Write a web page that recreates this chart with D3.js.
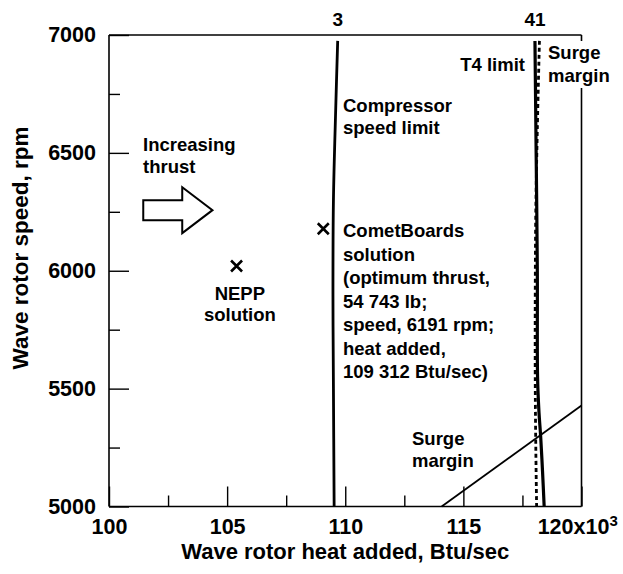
<!DOCTYPE html>
<html><head><meta charset="utf-8">
<script src="https://cdn.jsdelivr.net/npm/d3@7"></script>
<style>
html,body{margin:0;padding:0;background:#fff;}
text{font-family:"Liberation Sans",Arial,Helvetica,sans-serif;font-weight:bold;fill:#000;}
</style></head>
<body>
<svg id="chart" width="623" height="574"></svg>
<script>
// ---- data ----
const xDomain = [100, 120];
const yDomain = [5000, 7000];
const xTicks = [100, 105, 110, 115, 120];
const xTickLabels = ["100", "105", "110", "115", "120x10"];
const xTickExponent = ["", "", "", "", "3"];
const xMinorTicks = [102.5, 107.5, 112.5, 117.5];
const yTicks = [5000, 5500, 6000, 6500, 7000];
const yTickLabels = ["5000", "5500", "6000", "6500", "7000"];
const yMinorTicks = [5250, 5750, 6250, 6750];

// constraint curves: [heat added (x10^3 Btu/sec), speed (rpm)]
const compressorSpeedLimit = [[109.68, 6975], [109.6, 6700], [109.5, 6300], [109.48, 5900], [109.5, 5500], [109.53, 5000]];
const t4Limit = [[118.03, 6975], [118.08, 6500], [118.13, 6000], [118.14, 5550], [118.2, 5400], [118.27, 5300], [118.35, 5150], [118.42, 5000]];
const surgeMarginVertical = [[118.22, 6975], [118.13, 6600], [118.06, 6200], [118.04, 5600], [118.06, 5300], [118.1, 5000]];
const surgeMarginDiagonal = [[114.08, 5000], [120, 5428]];

const neppSolution = [105.4, 6020];
const cometBoardsSolution = [109.07, 6178];

const topLabels = [["3", 109.68], ["41", 118.03]];

// ---- chart ----
const svg = d3.select("#chart");
const x = d3.scaleLinear().domain(xDomain).range([109, 581.5]);
const y = d3.scaleLinear().domain(yDomain).range([506.5, 35]);

const g = svg.append("g");

// axes (ticks inward)
const xAxis = d3.axisBottom(x).tickValues(xTicks)
  .tickFormat((d, i) => xTickLabels[i]).tickSize(-20).tickSizeOuter(0).tickPadding(12);
const xAxisMinor = d3.axisBottom(x).tickValues(xMinorTicks).tickFormat("").tickSize(-11).tickSizeOuter(0);
const yAxis = d3.axisLeft(y).tickValues(yTicks)
  .tickFormat((d, i) => yTickLabels[i]).tickSize(-20).tickSizeOuter(0).tickPadding(13);
const yAxisMinor = d3.axisLeft(y).tickValues(yMinorTicks).tickFormat("").tickSize(-11).tickSizeOuter(0);

function styleAxis(sel) {
  sel.select(".domain").remove();
  sel.selectAll(".tick line").attr("stroke", "#000").attr("stroke-width", 1.4);
  sel.selectAll(".tick text").attr("font-size", 21.5).attr("font-weight", "bold")
    .attr("font-family", '"Liberation Sans",Arial,sans-serif').attr("fill", "#000");
}
const xg = g.append("g").attr("transform", `translate(0,${y(5000)})`).call(xAxis).call(styleAxis);
// exponent on last label
xg.selectAll(".tick text").each(function (d, i) {
  if (xTickExponent[i]) {
    const t = d3.select(this);
    t.attr("dx", "-0.2em");
    t.append("tspan").attr("font-size", 15).attr("dy", "-0.55em").text(xTickExponent[i]);
  }
});
g.append("g").attr("transform", `translate(0,${y(5000)})`).call(xAxisMinor).call(styleAxis);
g.append("g").attr("transform", `translate(${x(100)},0)`).call(yAxis).call(styleAxis);
g.append("g").attr("transform", `translate(${x(100)},0)`).call(yAxisMinor).call(styleAxis);

// frame
const frame = g.append("g").attr("stroke", "#000").attr("stroke-width", 1.6).attr("fill", "none");
frame.append("line").attr("x1", x(100)).attr("x2", x(100)).attr("y1", y(7000)).attr("y2", y(5000));
frame.append("line").attr("x1", x(100)).attr("x2", x(120)).attr("y1", y(5000)).attr("y2", y(5000));
frame.append("line").attr("x1", x(100)).attr("x2", x(120)).attr("y1", y(7000)).attr("y2", y(7000));
frame.append("line").attr("x1", x(120)).attr("x2", x(120)).attr("y1", y(7000)).attr("y2", y(5000));

// curves
const line = d3.line().x(d => x(d[0])).y(d => y(d[1])).curve(d3.curveCatmullRom);
g.append("path").datum(compressorSpeedLimit).attr("d", line)
  .attr("fill", "none").attr("stroke", "#000").attr("stroke-width", 2.8);
g.append("path").datum(surgeMarginVertical).attr("d", line)
  .attr("fill", "none").attr("stroke", "#000").attr("stroke-width", 2.8).attr("stroke-dasharray", "4,3");
g.append("path").datum(t4Limit).attr("d", line)
  .attr("fill", "none").attr("stroke", "#000").attr("stroke-width", 3.2);
g.append("path").datum(surgeMarginDiagonal).attr("d", d3.line().x(d => x(d[0])).y(d => y(d[1])))
  .attr("fill", "none").attr("stroke", "#000").attr("stroke-width", 1.8);

// solution markers (x)
function cross(p) {
  const cx = x(p[0]), cy = y(p[1]), r = 5.5;
  g.append("path")
    .attr("d", `M${cx - r},${cy - r}L${cx + r},${cy + r}M${cx - r},${cy + r}L${cx + r},${cy - r}`)
    .attr("stroke", "#000").attr("stroke-width", 2.6).attr("fill", "none");
}
cross(neppSolution);
cross(cometBoardsSolution);

// increasing-thrust arrow (hollow)
{
  const x0 = x(101.45), xh = x(103.1), xt = x(104.38), cy = y(6257);
  const sh = 10, hh = 23;
  g.append("path")
    .attr("d", `M${x0},${cy - sh}L${xh},${cy - sh}L${xh},${cy - hh}L${xt},${cy}L${xh},${cy + hh}L${xh},${cy + sh}L${x0},${cy + sh}Z`)
    .attr("fill", "#fff").attr("stroke", "#000").attr("stroke-width", 2);
}

// text annotations
function txt(s, px, py, size, anchor) {
  return g.append("text").attr("x", px).attr("y", py).attr("font-size", size)
    .attr("text-anchor", anchor || "start").text(s);
}
const A = 18.5;
txt("Increasing", x(101.44), 151, A);
txt("thrust", x(101.44), 173, A);
txt("NEPP", x(105.54), 300, A, "middle");
txt("solution", x(105.54), 321, A, "middle");
txt("Compressor", 343, 112, A);
txt("speed limit", 343, 134, A);
const cometLines = ["CometBoards", "solution", "(optimum thrust,", "54 743 lb;", "speed, 6191 rpm;", "heat added,", "109 312 Btu/sec)"];
cometLines.forEach((s, i) => txt(s, 343, 237 + i * 23.5, A));
txt("T4 limit", 525, 71, A, "end");

// top-right surge margin label (masks the frame behind it)
g.append("rect").attr("x", 545).attr("y", 41).attr("width", 70).attr("height", 47).attr("fill", "#fff");
txt("Surge", 548, 59, A);
txt("margin", 548, 82, A);
txt("Surge", 412, 445, A);
txt("margin", 412, 467, A);

// top labels
topLabels.forEach(([s, v]) => txt(s, x(v), 26, 19, "middle"));

// axis titles
txt("Wave rotor heat added, Btu/sec", (x(100) + x(120)) / 2, 559, 22, "middle");
g.append("text").attr("transform", `translate(28,248) rotate(-90)`)
  .attr("text-anchor", "middle").attr("font-size", 22.5).text("Wave rotor speed, rpm");
</script>
</body></html>
